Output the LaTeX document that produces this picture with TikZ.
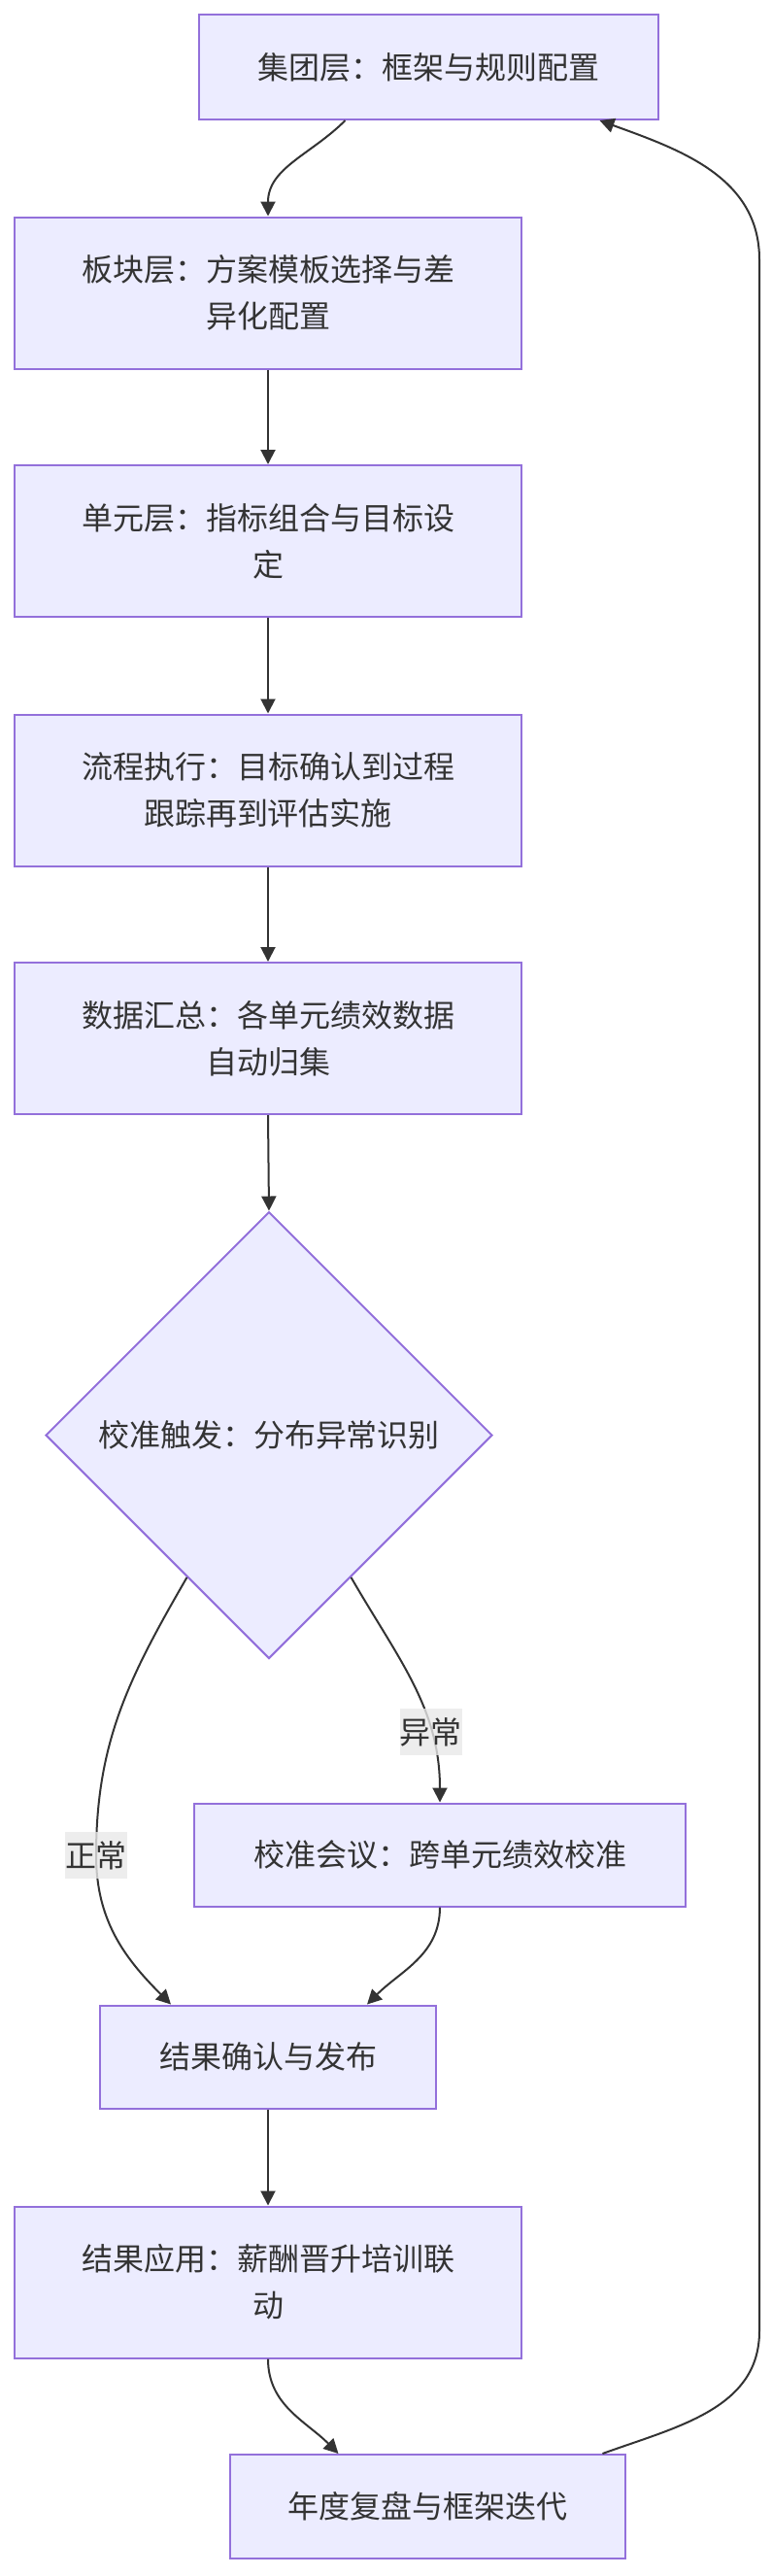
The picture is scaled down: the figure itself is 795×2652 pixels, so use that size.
\documentclass[tikz,border=0pt]{standalone}
\usepackage{fontspec}
\setmainfont{Noto Sans CJK SC}
\usetikzlibrary{shapes.geometric,arrows.meta}
\definecolor{nodefill}{HTML}{ECECFF}
\definecolor{nodeline}{HTML}{9370DB}
\definecolor{edgeline}{HTML}{333333}
\definecolor{lblfill}{HTML}{E8E8E8}

\begin{document}
\begin{tikzpicture}[x=0.5pt, y=-0.5pt, >={Triangle[length=7.5pt,width=7.5pt]},
    box/.style={draw=nodeline, fill=nodefill, line width=1pt, text=edgeline, align=center,
        inner sep=0pt, font=\fontsize{16pt}{24pt}\selectfont},
    wide/.style={box, minimum width=261pt, minimum height=78pt},
    dec/.style={box, diamond, minimum width=230pt, minimum height=230pt},
    lbl/.style={fill=lblfill, fill opacity=0.8, text opacity=1, text=edgeline, inner sep=0pt,
        minimum height=24pt, font=\fontsize{16pt}{24pt}\selectfont},
    flow/.style={->, draw=edgeline, line width=1pt}]
    \useasboundingbox (0,0) rectangle (795,2652);
    % levels
    \node[box, minimum width=236.5pt, minimum height=54pt] (grp) at (441.5,69) {集团层：框架与规则配置};
    \node[wide] (sec) at (276,301.5) {板块层：方案模板选择与差\\异化配置};
    \node[wide] (unit) at (276,557) {单元层：指标组合与目标设\\定};
    \node[wide] (exec) at (276,813.5) {流程执行：目标确认到过程\\跟踪再到评估实施};
    \node[wide] (data) at (276,1069) {数据汇总：各单元绩效数据\\自动归集};
    % calibration
    \node[dec] (dia) at (277,1477.5) {校准触发：分布异常识别};
    \node[box, minimum width=253pt, minimum height=53pt] (meet) at (453,1909.5) {校准会议：跨单元绩效校准};
    \node[box, minimum width=173pt, minimum height=53pt] (conf) at (276,2117.5) {结果确认与发布};
    \node[wide] (apply) at (276,2349.5) {结果应用：薪酬晋升培训联\\动};
    \node[box, minimum width=203.5pt, minimum height=53.5pt] (review) at (440.5,2580.5) {年度复盘与框架迭代};
    \coordinate (nbend) at (99,1910);
    \coordinate (lbot) at (782,2400);
    \coordinate (ltop) at (782,267);

    \draw[flow] ([xshift=-43pt]grp.south) to[out=-135,in=90] (sec.north);
    \draw[flow] (sec.south) -- (unit.north);
    \draw[flow] (unit.south) -- (exec.north);
    \draw[flow] (exec.south) -- (data.north);
    \draw[flow] (data.south) -- (dia.north);
    \draw[flow] (dia.-60) to[out=-60,in=90] node[lbl, pos=0.72] (lblab) {异常} (meet.north);
    \draw[flow] (dia.-120) to[out=-120,in=90] (nbend) node[lbl] (lblok) {正常}
        to[out=-90,in=135] ([xshift=-50pt]conf.north);
    \draw[flow] (meet.south) to[out=-90,in=45] ([xshift=51pt]conf.north);
    \draw[flow] (conf.south) -- (apply.north);
    \draw[flow] (apply.south) to[out=-90,in=135] ([xshift=-46pt]review.north);
    % loop back
    \draw[flow] ([xshift=90pt]review.north) to[out=20,in=-90] (lbot) -- (ltop)
        to[out=90,in=-20] ([xshift=88pt]grp.south);
\end{tikzpicture}
\end{document}
